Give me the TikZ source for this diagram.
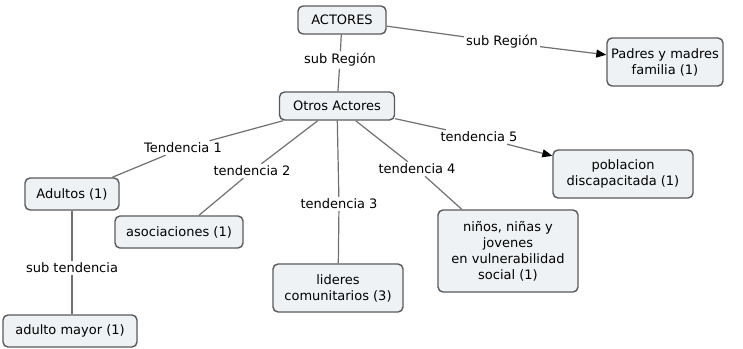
\documentclass[tikz,border=0pt]{standalone}
\usepackage{fontspec}
\setmainfont{DejaVu Sans}
\usetikzlibrary{arrows.meta}
\definecolor{boxfill}{HTML}{EEF2F5}
\definecolor{boxline}{HTML}{5A5A5A}
\definecolor{conline}{HTML}{707070}
\begin{document}
\begin{tikzpicture}[x=1pt,y=-1pt,
  concept/.style={draw=boxline,fill=boxfill,line width=1.4pt,rounded corners=5pt,
    align=center,inner sep=2pt,font=\fontsize{13}{16}\selectfont},
  lbl/.style={inner sep=2pt,font=\fontsize{13}{16}\selectfont},
  conn/.style={draw=conline,line width=1.2pt},
  arr/.style={conn,-{Triangle[length=10pt,width=8pt,fill=black,color=black]}}]
\useasboundingbox[fill=white] (0,0) rectangle (743,348);
% concepts
\node[concept,minimum width=88pt,minimum height=28pt] (actores) at (342,20) {ACTORES};
\node[concept,minimum width=116pt,minimum height=48pt] (padres) at (665,62) {Padres y madres\\familia (1)};
\node[concept,minimum width=115pt,minimum height=28pt] (otros) at (337,106) {Otros Actores};
\node[concept,minimum width=94pt,minimum height=32pt] (adultos) at (72,194) {Adultos (1)};
\node[concept,minimum width=128pt,minimum height=32pt] (asoc) at (179,232) {asociaciones (1)};
\node[concept,minimum width=130pt,minimum height=48pt] (lideres) at (338,288) {lideres\\comunitarios (3)};
\node[concept,minimum width=134pt,minimum height=32pt] (mayor) at (70,331) {adulto mayor (1)};
\node[concept,minimum width=140pt,minimum height=82pt] (ninos) at (508,251) {niños, niñas y\\jovenes\\en vulnerabilidad\\social (1)};
\node[concept,minimum width=140pt,minimum height=48pt] (pobl) at (623,174) {poblacion\\discapacitada (1)};
% labels
\node[lbl] (l1) at (502,42) {sub Región};
\node[lbl] (l2) at (340,60) {sub Región};
\node[lbl] (t1) at (183,148) {Tendencia 1};
\node[lbl] (t2) at (252,171) {tendencia 2};
\node[lbl] (t3) at (339,204) {tendencia 3};
\node[lbl] (t4) at (417,169) {tendencia 4};
\node[lbl] (t5) at (479,137) {tendencia 5};
\node[lbl] (st) at (72,268) {sub tendencia};
% connectors
\draw[conn] (actores) -- (l2);
\draw[conn] (actores) -- (l1);
\draw[arr] (l1) -- (padres);
\draw[conn] (l2) -- (otros);
\draw[conn] (otros) -- (t1);
\draw[conn] (t1) -- (adultos);
\draw[conn] (otros) -- (t2);
\draw[conn] (t2) -- (asoc);
\draw[conn] (otros) -- (t3);
\draw[conn] (t3) -- (lideres);
\draw[conn] (otros) -- (t4);
\draw[conn] (t4) -- (ninos);
\draw[conn] (otros) -- (t5);
\draw[arr] (t5) -- (pobl);
\draw[conn] (adultos.south) -- (st.north);
\draw[conn] (st.south) -- (st.south |- mayor.north);
\end{tikzpicture}
\end{document}
